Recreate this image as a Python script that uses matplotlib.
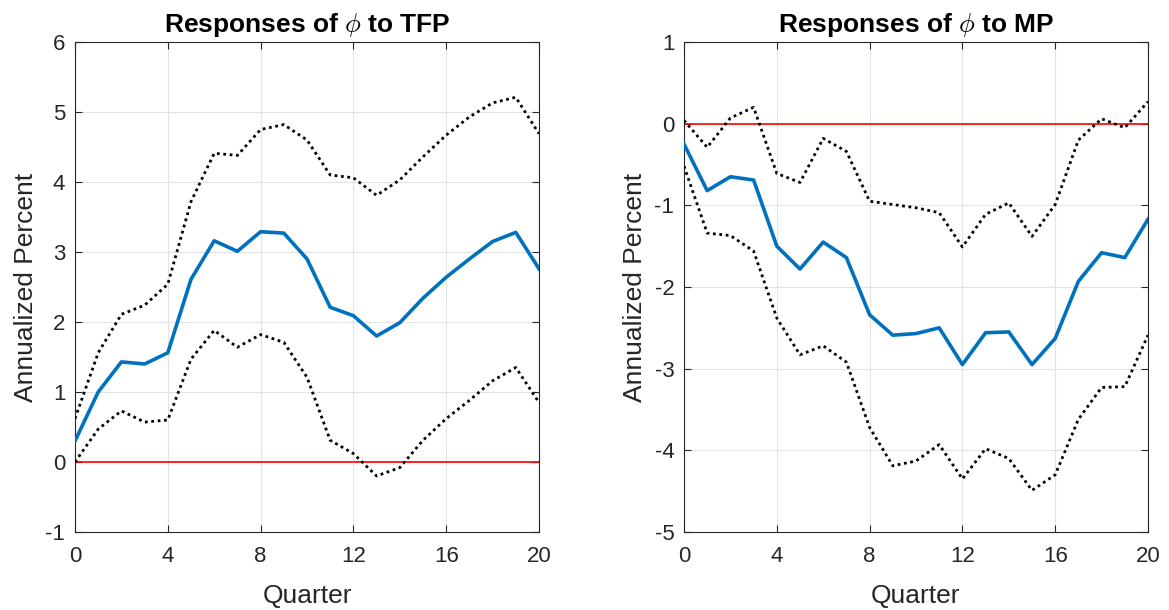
import matplotlib
matplotlib.use("Agg")
import matplotlib.pyplot as plt
import numpy as np

quarters = list(range(21))

tfp_mid = [0.30, 1.00, 1.43, 1.40, 1.56, 2.61, 3.16, 3.01, 3.29, 3.27, 2.90,
           2.21, 2.09, 1.80, 1.99, 2.34, 2.64, 2.90, 3.15, 3.28, 2.76]
tfp_upper = [0.62, 1.56, 2.11, 2.24, 2.54, 3.72, 4.41, 4.38, 4.75, 4.82, 4.60,
             4.10, 4.06, 3.81, 4.03, 4.36, 4.67, 4.93, 5.13, 5.21, 4.69]
tfp_lower = [0.00, 0.47, 0.73, 0.57, 0.60, 1.47, 1.88, 1.64, 1.82, 1.71, 1.21,
             0.31, 0.12, -0.20, -0.08, 0.31, 0.62, 0.88, 1.16, 1.35, 0.85]

mp_mid = [-0.25, -0.82, -0.65, -0.69, -1.50, -1.78, -1.45, -1.64, -2.34, -2.59, -2.57,
          -2.50, -2.95, -2.56, -2.55, -2.95, -2.63, -1.93, -1.58, -1.64, -1.17]
mp_upper = [0.04, -0.29, 0.07, 0.20, -0.61, -0.72, -0.18, -0.34, -0.95, -0.99, -1.03,
            -1.09, -1.51, -1.11, -0.97, -1.38, -0.99, -0.20, 0.06, -0.05, 0.27]
mp_lower = [-0.52, -1.34, -1.37, -1.56, -2.38, -2.83, -2.72, -2.92, -3.72, -4.19, -4.13,
            -3.93, -4.35, -3.98, -4.10, -4.49, -4.30, -3.62, -3.23, -3.22, -2.59]

xticks = [0, 4, 8, 12, 16, 20]
tfp_yticks = [-1, 0, 1, 2, 3, 4, 5, 6]
mp_yticks = [-5, -4, -3, -2, -1, 0, 1]

titles = [r"Responses of $\phi$ to TFP", r"Responses of $\phi$ to MP"]

plt.rcParams['font.family'] = ['Liberation Sans', 'DejaVu Sans']
plt.rcParams['mathtext.fontset'] = 'cm'

fig = plt.figure(figsize=(11.69, 6.10), dpi=100)
W, H = 1169, 610
ax1 = fig.add_axes([75 / W, 1 - 532 / H, (539 - 75) / W, (532 - 42) / H])
ax2 = fig.add_axes([684 / W, 1 - 532 / H, (1148 - 684) / W, (532 - 42) / H])

blue = '#0072BD'
for ax, mid, up, lo, yt, title in [
    (ax1, tfp_mid, tfp_upper, tfp_lower, tfp_yticks, titles[0]),
    (ax2, mp_mid, mp_upper, mp_lower, mp_yticks, titles[1]),
]:
    ax.axhline(0, color='#FF0000', lw=1.2, zorder=2)
    ax.plot(quarters, up, color='black', ls=(0, (1, 1.3)), lw=2.0, zorder=3)
    ax.plot(quarters, lo, color='black', ls=(0, (1, 1.3)), lw=2.0, zorder=3)
    ax.plot(quarters, mid, color=blue, lw=2.6, zorder=4)
    ax.set_xlim(0, 20)
    ax.set_ylim(yt[0], yt[-1])
    ax.set_xticks(xticks)
    ax.set_yticks(yt)
    ax.set_yticklabels([str(v) for v in yt])
    ax.grid(True, color='#E3E3E3', lw=0.8)
    ax.set_axisbelow(True)
    ax.tick_params(direction='in', length=5, width=0.8, top=True, right=True,
                   labelsize=16, colors='#262626')
    ax.tick_params(axis='x', pad=10)
    ax.tick_params(axis='y', pad=7)
    for s in ax.spines.values():
        s.set_color('#262626')
        s.set_linewidth(0.8)
    ax.set_xlabel('Quarter', fontsize=19, color='#262626', labelpad=12)
    ax.set_ylabel('Annualized Percent', fontsize=19, color='#262626', labelpad=5)
    ax.set_title(title, fontsize=19, fontweight='bold', pad=7)

fig.savefig('out.png', dpi=100)
